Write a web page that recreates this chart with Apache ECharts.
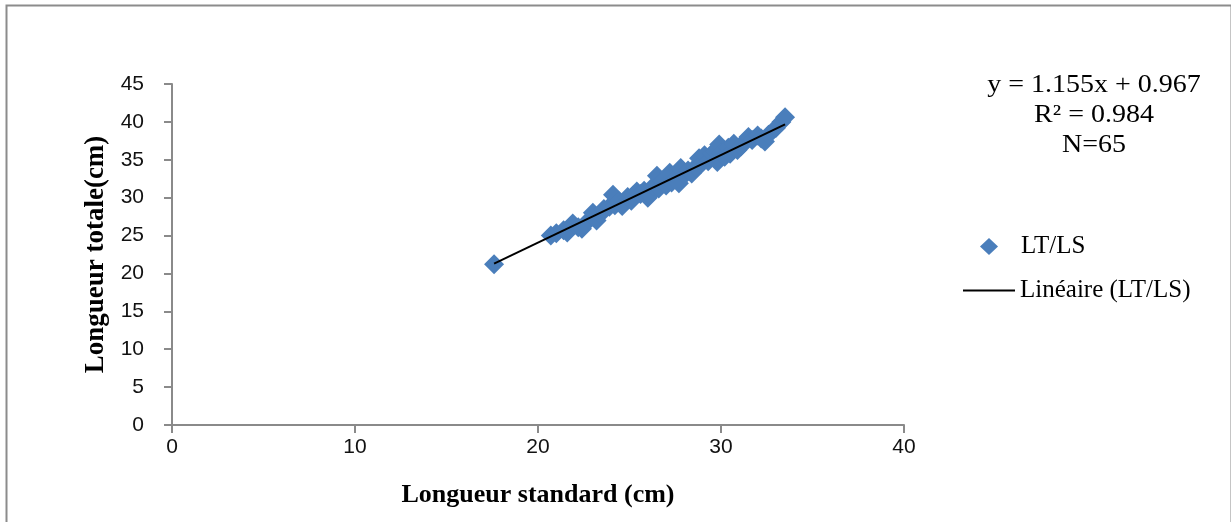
<!DOCTYPE html>
<html>
<head>
<meta charset="utf-8">
<script src="https://cdn.jsdelivr.net/npm/echarts@6/dist/echarts.min.js"></script>
<style>html,body{margin:0;padding:0;background:#fff}#c{width:1231px;height:522px}</style>
</head>
<body>
<div id="c"></div>
<script>
// Longueur standard (cm)
const lsValues = [17.6,20.7,21.0,21.4,21.6,21.9,22.2,22.4,22.8,23.0,23.2,23.4,23.6,23.9,24.1,24.2,24.4,24.6,24.9,25.1,25.2,25.4,25.6,25.8,26.0,26.1,26.3,26.5,26.6,26.8,27.0,27.2,27.3,27.5,27.7,27.8,28.0,28.2,28.4,28.6,28.8,28.9,29.1,29.3,29.5,29.7,29.8,29.9,30.0,30.2,30.4,30.5,30.7,30.9,31.1,31.3,31.5,31.7,32.0,32.2,32.4,32.6,33.0,33.3,33.5];
// Longueur totale (cm)
const ltValues = [21.2,25.0,25.3,25.7,25.4,26.6,26.1,25.9,27.1,28.0,27.0,27.8,28.5,28.8,30.4,29.0,29.6,28.9,30.1,29.6,30.3,30.8,30.5,30.9,30.0,30.4,31.5,32.9,31.2,32.2,31.6,33.3,32.0,32.6,31.9,33.9,33.0,33.6,33.2,34.0,35.2,34.4,35.6,34.8,35.8,36.2,34.7,37.0,36.0,35.4,36.6,35.8,37.1,36.3,36.8,37.4,38.0,37.6,38.2,37.8,37.4,38.3,39.2,40.0,40.6];
// Linear trend line end points (y = 1.155x + 0.967)
const trendX = [17.6, 33.5];
const trendY = [21.3, 39.66];
const xTicks = [0, 10, 20, 30, 40];
const yTicks = [0, 5, 10, 15, 20, 25, 30, 35, 40, 45];
const annotationLines = ['y = 1.155x + 0.967', 'R² = 0.984', 'N=65'];
const seriesNames = ['LT/LS', 'Linéaire (LT/LS)'];

const scatterData = lsValues.map((x, i) => [x, ltValues[i]]);
const trendData = trendX.map((x, i) => [x, trendY[i]]);

const axisColor = '#8a8a8a';
const chart = echarts.init(document.getElementById('c'));
chart.setOption({
  animation: false,
  backgroundColor: '#fff',
  grid: { left: 172, right: 327, top: 84, bottom: 97, containLabel: false, outerBoundsMode: 'none' },
  xAxis: {
    type: 'value', min: xTicks[0], max: xTicks[xTicks.length - 1], interval: 10,
    name: 'Longueur standard (cm)', nameLocation: 'middle', nameGap: 57,
    nameTextStyle: { fontFamily: 'Liberation Serif', fontWeight: 'bold', fontSize: 26, color: '#000' },
    axisLine: { show: true, lineStyle: { color: axisColor, width: 2 } },
    axisTick: { show: true, inside: false, length: 8, lineStyle: { color: axisColor, width: 2 } },
    splitLine: { show: false },
    axisLabel: { margin: 12, fontFamily: 'Liberation Sans', fontSize: 21, color: '#111' }
  },
  yAxis: {
    type: 'value', min: yTicks[0], max: yTicks[yTicks.length - 1], interval: 5,
    name: 'Longueur totale(cm)', nameLocation: 'middle', nameGap: 59, nameRotate: 90,
    nameTextStyle: { fontFamily: 'Liberation Serif', fontWeight: 'bold', fontSize: 27, color: '#000' },
    axisLine: { show: true, lineStyle: { color: axisColor, width: 2 } },
    axisTick: { show: true, inside: false, length: 8, lineStyle: { color: axisColor, width: 2 } },
    splitLine: { show: false },
    axisLabel: { margin: 28, fontFamily: 'Liberation Sans', fontSize: 21, color: '#111' }
  },
  legend: [
    {
      data: [seriesNames[0]], orient: 'vertical', left: 975, top: 229,
      icon: 'diamond', itemWidth: 18, itemHeight: 17,
      textStyle: { fontFamily: 'Liberation Serif', fontSize: 25, color: '#000', padding: [0, 0, 0, 18] }
    },
    {
      data: [seriesNames[1]], orient: 'vertical', left: 958, top: 273,
      icon: 'rect', itemWidth: 52, itemHeight: 2,
      textStyle: { fontFamily: 'Liberation Serif', fontSize: 25, color: '#000' }
    }
  ],
  graphic: [
    {
      type: 'rect', left: 4, top: 3, silent: true,
      shape: { width: 1225, height: 540 },
      style: { fill: 'none', stroke: '#8c8c8c', lineWidth: 2 }
    },
    {
      type: 'text', x: 1094, y: 70, scaleX: 1.12, silent: true,
      style: {
        text: annotationLines.join('\n'), align: 'center', verticalAlign: 'top',
        fontFamily: 'Liberation Serif', fontSize: 25, lineHeight: 30, fill: '#000'
      }
    }
  ],
  series: [
    {
      name: seriesNames[0], type: 'scatter', data: scatterData,
      symbol: 'diamond', symbolSize: 20,
      itemStyle: { color: '#4a7ebb', opacity: 1 }, z: 2
    },
    {
      name: seriesNames[1], type: 'line', data: trendData,
      symbol: 'none', showSymbol: false,
      lineStyle: { color: '#000', width: 2 }, itemStyle: { color: '#000' }, z: 3
    }
  ]
});
</script>
</body>
</html>
